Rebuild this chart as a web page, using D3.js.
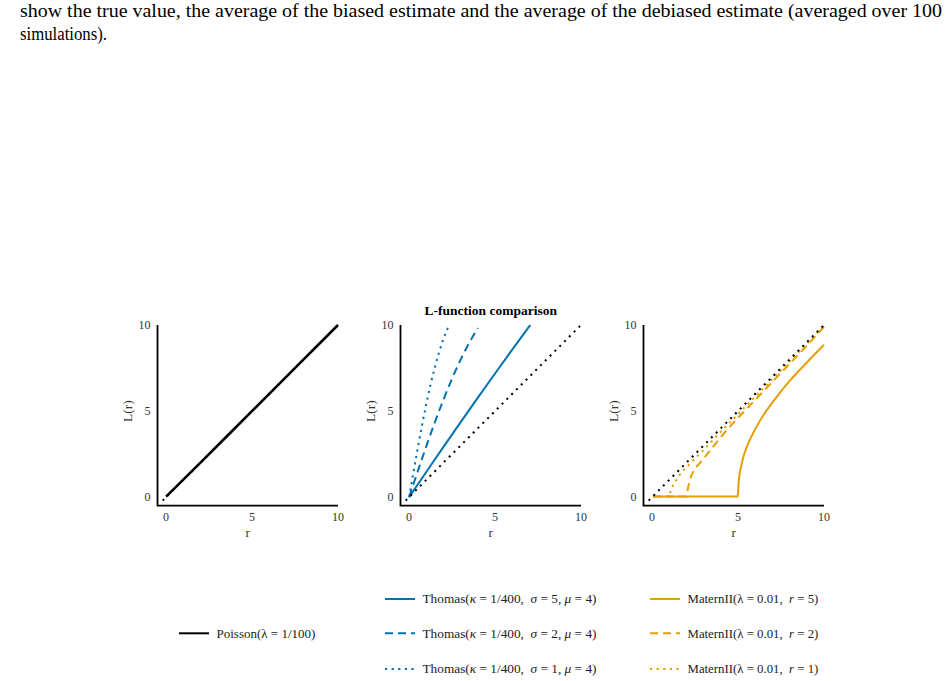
<!DOCTYPE html>
<html>
<head>
<meta charset="utf-8">
<script src="https://cdn.jsdelivr.net/npm/d3@7"></script>
<style>
  body { margin: 0; background: #fff; }
  svg text { font-family: "Liberation Serif", "Times New Roman", Times, serif; }
</style>
</head>
<body>
<svg id="chart" width="948" height="681"></svg>
<script>
// caption text above the figure
var captionLines = [
  "show the true value, the average of the biased estimate and the average of the debiased estimate (averaged over 100",
  "simulations)."
];

var tickVals = [0, 5, 10];

// reference L(r) = r (dotted black)
var refR = [-0.2, 10];
var refL = [-0.2, 10];

// Poisson(lambda = 1/100)
var poissonR = [0, 2, 4, 6, 8, 10];
var poissonL = [0.03, 2, 4, 6, 8, 10];

// Thomas processes, sigma = 5, 2, 1
var thomas5R = [0, 1, 2, 3, 4, 5, 6, 7.05];
var thomas5L = [0, 1.46, 2.92, 4.36, 5.78, 7.18, 8.57, 10.0];
var thomas2R = [0, 0.5, 1, 1.5, 2, 2.5, 3, 3.5, 4];
var thomas2L = [0, 1.49, 2.95, 4.35, 5.67, 6.89, 7.99, 8.97, 9.82];
var thomas1R = [0, 0.25, 0.5, 0.75, 1, 1.25, 1.5, 1.75, 2, 2.3];
var thomas1L = [0, 1.43, 2.82, 4.16, 5.4, 6.54, 7.55, 8.44, 9.19, 9.94];

// Matern II processes, r = 5, 2, 1
var matern5R = [0.05, 4.98, 5.0, 5.02, 5.07, 5.17, 5.36, 5.65, 6.0, 6.5, 7.0, 7.5, 8.0, 8.5, 9.0, 9.5, 10];
var matern5L = [0.03, 0.03, 0.3, 0.65, 1.2, 1.75, 2.5, 3.25, 3.95, 4.8, 5.5, 6.15, 6.75, 7.3, 7.82, 8.34, 8.85];
var matern2R = [0.05, 2.0, 2.03, 2.07, 2.2, 2.39, 2.78, 3.25, 3.74, 4.21, 4.79, 6, 7, 8, 9, 10];
var matern2L = [0.03, 0.03, 0.2, 0.42, 1.0, 1.48, 1.97, 2.55, 3.17, 3.74, 4.38, 5.65, 6.7, 7.75, 8.8, 9.9];
var matern1R = [0.05, 1.0, 1.05, 1.18, 1.38, 1.59, 2.1, 3, 4, 5, 6, 7, 8, 9, 10];
var matern1L = [0.03, 0.03, 0.23, 0.6, 0.94, 1.27, 1.83, 2.75, 3.8, 4.82, 5.84, 6.86, 7.88, 8.92, 9.95];

var thomasSigma = ["5", "2", "1"];
var maternRadius = ["5", "2", "1"];

var black = "#000000", blue = "#0072B2", orange = "#E69F00";
var dashes = { solid: null, dashed: "8,5", dotted: "2.2,4.4" };

var svg = d3.select("#chart");

///////////////////////////////////////////////////////////////
//////////////////////// caption //////////////////////////////
///////////////////////////////////////////////////////////////
svg.append("text")
  .attr("x", 20).attr("y", 16.5)
  .attr("textLength", 922).attr("lengthAdjust", "spacingAndGlyphs")
  .style("font-size", "18.5px")
  .text(captionLines[0]);
svg.append("text")
  .attr("x", 20).attr("y", 39.5)
  .attr("textLength", 87).attr("lengthAdjust", "spacingAndGlyphs")
  .style("font-size", "18.5px")
  .text(captionLines[1]);

///////////////////////////////////////////////////////////////
//////////////////////// panels ///////////////////////////////
///////////////////////////////////////////////////////////////
var panelLeft = [157.5, 400.5, 643.5];
var panelTop = 325, pw = 180.5, ph = 180.7;

function zip(xs, ys) {
  return xs.map(function (x, i) { return [x, ys[i]]; });
}

function makePanel(left, series, title) {
  var x = d3.scaleLinear().domain([-0.5, 10]).range([left, left + pw]);
  var y = d3.scaleLinear().domain([-0.5, 10]).range([panelTop + ph, panelTop]);
  var g = svg.append("g");

  var line = d3.line()
    .x(function (d) { return x(d[0]); })
    .y(function (d) { return y(d[1]); })
    .curve(d3.curveMonotoneX);

  series.forEach(function (s) {
    g.append("path")
      .attr("d", line(zip(s.r, s.l)))
      .attr("fill", "none")
      .attr("stroke", s.color)
      .attr("stroke-width", s.width || 2)
      .attr("stroke-dasharray", dashes[s.style]);
  });

  // dotted reference on top
  g.append("path")
    .attr("d", d3.line().x(function (d) { return x(d[0]); }).y(function (d) { return y(d[1]); })(zip(refR, refL)))
    .attr("fill", "none")
    .attr("stroke", black)
    .attr("stroke-width", 2)
    .attr("stroke-dasharray", "2,4.8");

  // spines
  g.append("path")
    .attr("d", "M" + left + "," + panelTop + "V" + (panelTop + ph) + "H" + (left + pw))
    .attr("fill", "none")
    .attr("stroke", "#000")
    .attr("stroke-width", 1.8);

  // tick labels
  g.selectAll(".xt").data(tickVals).enter().append("text")
    .attr("x", function (d) { return x(d); })
    .attr("y", panelTop + ph + 15)
    .attr("text-anchor", "middle")
    .style("font-size", "12px").style("fill", "#333")
    .text(function (d) { return d; });
  g.selectAll(".yt").data(tickVals).enter().append("text")
    .attr("x", left - 7)
    .attr("y", function (d) { return y(d); })
    .attr("dy", "0.35em")
    .attr("text-anchor", "end")
    .style("font-size", "12px").style("fill", "#333")
    .text(function (d) { return d; });

  // axis labels
  g.append("text")
    .attr("x", left + pw / 2).attr("y", panelTop + ph + 31)
    .attr("text-anchor", "middle")
    .style("font-size", "13px").style("fill", "#333")
    .text("r");
  g.append("text")
    .attr("transform", "translate(" + (left - 30) + "," + y(5) + ") rotate(-90)")
    .attr("dy", "0.35em")
    .attr("text-anchor", "middle")
    .style("font-size", "13.5px").style("fill", "#333")
    .text("L(r)");

  if (title) {
    g.append("text")
      .attr("x", left + pw / 2).attr("y", panelTop - 10)
      .attr("text-anchor", "middle")
      .style("font-size", "13.5px").style("font-weight", "bold")
      .text(title);
  }
}

makePanel(panelLeft[0], [
  { r: poissonR, l: poissonL, color: black, style: "solid", width: 2.6 }
]);

makePanel(panelLeft[1], [
  { r: thomas5R, l: thomas5L, color: blue, style: "solid" },
  { r: thomas2R, l: thomas2L, color: blue, style: "dashed" },
  { r: thomas1R, l: thomas1L, color: blue, style: "dotted" }
], "L-function comparison");

makePanel(panelLeft[2], [
  { r: matern5R, l: matern5L, color: orange, style: "solid" },
  { r: matern2R, l: matern2L, color: orange, style: "dashed" },
  { r: matern1R, l: matern1L, color: orange, style: "dotted" }
]);

///////////////////////////////////////////////////////////////
//////////////////////// legends //////////////////////////////
///////////////////////////////////////////////////////////////
var rowY = [599, 633.3, 669];

function legendEntry(x0, yy, color, style, parts, size) {
  svg.append("line")
    .attr("x1", x0).attr("x2", x0 + 30)
    .attr("y1", yy).attr("y2", yy)
    .attr("stroke", color).attr("stroke-width", 2)
    .attr("stroke-dasharray", dashes[style]);
  var t = svg.append("text")
    .attr("x", x0 + 37.5).attr("y", yy).attr("dy", "0.33em")
    .style("white-space", "pre")
    .style("font-size", size || "13px").style("fill", "#222");
  parts.forEach(function (p) {
    t.append("tspan")
      .style("font-style", p.it ? "italic" : "normal")
      .text(p.s);
  });
}

legendEntry(179, rowY[1], black, "solid", [
  { s: "Poisson(λ = 1/100)" }
]);

var styles = ["solid", "dashed", "dotted"];
thomasSigma.forEach(function (sg, i) {
  legendEntry(385, rowY[i], blue, styles[i], [
    { s: "Thomas(" }, { s: "κ", it: true }, { s: " = 1/400,  " },
    { s: "σ", it: true }, { s: " = " + sg + ", " },
    { s: "μ", it: true }, { s: " = 4)" }
  ], "13.3px");
});

maternRadius.forEach(function (rr, i) {
  legendEntry(650, rowY[i], orange, styles[i], [
    { s: "MaternII(λ = 0.01,  " }, { s: "r", it: true }, { s: " = " + rr + ")" }
  ], "12.8px");
});
</script>
</body>
</html>
